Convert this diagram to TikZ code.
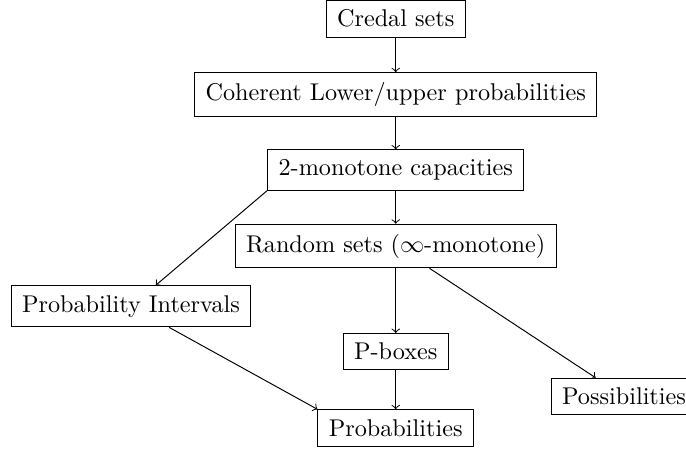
\documentclass[tikz,border=0pt]{standalone}
\usetikzlibrary{arrows}
\begin{document}
\begin{tikzpicture}[x=0.4129pt,y=-0.4129pt,
  box/.style={draw,rectangle,inner xsep=4.5pt,inner ysep=4pt,line width=0.4pt},
  arr/.style={->,line width=0.4pt}]
\useasboundingbox (0,0) rectangle (686,449);
\node[box] (credal) at (395.7,18.5) {Credal sets};
\node[box] (coh) at (395.7,94.5) {Coherent Lower/upper probabilities};
\node[box] (mono) at (395.7,170) {2-monotone capacities};
\node[box] (rs) at (395.7,246) {Random sets ($\infty$-monotone)};
\node[box] (pi) at (131,306.3) {Probability Intervals};
\node[box] (pbox) at (395.7,351.7) {P-boxes};
\node[box] (poss) at (624,396.5) {Possibilities};
\node[box] (prob) at (395.7,428) {Probabilities};
\draw[arr] (credal) -- (coh);
\draw[arr] (coh) -- (mono);
\draw[arr] (mono) -- (rs);
\draw[arr] (mono.south west) -- (pi);
\draw[arr] (rs) -- (pbox);
\draw[arr] (rs) -- (poss);
\draw[arr] (pi) -- (prob.north west);
\draw[arr] (pbox) -- (prob);
\end{tikzpicture}
\end{document}
